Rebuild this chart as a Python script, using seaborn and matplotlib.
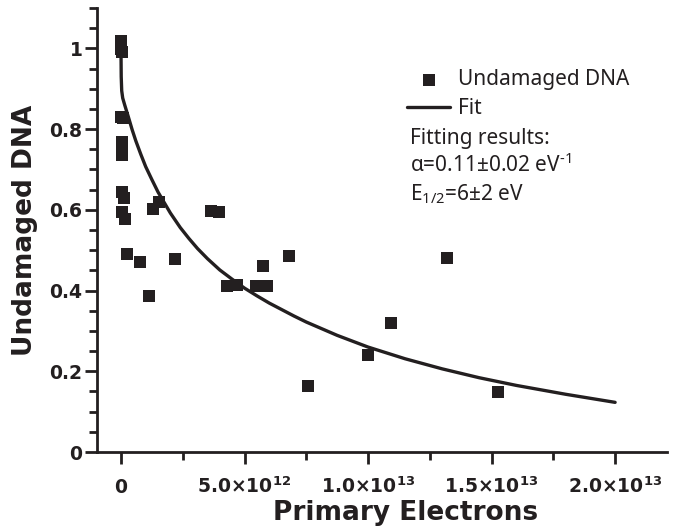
import numpy as np
import pandas as pd
import matplotlib
matplotlib.use("Agg")
import matplotlib.pyplot as plt
import seaborn as sns
from matplotlib.ticker import MultipleLocator, FuncFormatter
from matplotlib.lines import Line2D

# ---- data (x in units of 1e12 primary electrons) ----
data_x_e12 = [0.0, 0.02, 0.0, 0.03,
              0.0, 0.10,
              0.05, 0.05, 0.05,
              0.03, 0.12,
              0.03, 0.16,
              0.24, 0.77, 1.13,
              1.30, 1.52, 2.20,
              3.64, 3.95,
              4.29, 4.69, 5.47, 5.91,
              5.75, 6.82, 7.55, 9.98, 10.93, 13.18, 15.24]
data_y = [1.018, 1.008, 0.998, 0.991,
          0.830, 0.827,
          0.769, 0.752, 0.736,
          0.643, 0.630,
          0.595, 0.578,
          0.491, 0.471, 0.387,
          0.602, 0.620, 0.479,
          0.597, 0.594,
          0.411, 0.413, 0.412, 0.411,
          0.460, 0.485, 0.163, 0.241, 0.320, 0.481, 0.148]

# fit curve
fit_x_e12 = [0.0, 0.01, 0.03, 0.07, 0.15, 0.3, 0.45, 0.6, 0.8, 1.0, 1.25, 1.5,
             2.0, 2.4, 2.75, 3.1, 3.5, 4.0, 4.5, 5.0, 5.5, 6.0, 6.5, 7.0, 7.5,
             8.75, 10.0, 11.5, 13.0, 14.5, 16.0, 18.0, 20.0]
fit_y = [1.0, 0.93, 0.895, 0.877, 0.860, 0.830, 0.799, 0.771, 0.738, 0.707,
         0.675, 0.644, 0.592, 0.556, 0.529, 0.504, 0.479, 0.451, 0.428, 0.406,
         0.387, 0.369, 0.353, 0.337, 0.322, 0.289, 0.260, 0.231, 0.206, 0.184,
         0.165, 0.143, 0.123]

series_labels = ["Undamaged DNA", "Fit"]
fit_text = ["Fitting results:", "α=0.11±0.02 eV$^{\\text{-1}}$", "E$_{1/2}$=6±2 eV"]
x_label = "Primary Electrons"
y_label = "Undamaged DNA"

df_data = pd.DataFrame({"x": np.array(data_x_e12) * 1e12, "y": data_y})
df_fit = pd.DataFrame({"x": np.array(fit_x_e12) * 1e12, "y": fit_y})

# ---- style ----
sns.set_theme(style="ticks")
plt.rcParams["font.family"] = ["DejaVu Sans"]
plt.rcParams["mathtext.fontset"] = "custom"
plt.rcParams["mathtext.rm"] = "Noto Sans"
plt.rcParams["mathtext.it"] = "Noto Sans:italic"
plt.rcParams["mathtext.bf"] = "DejaVu Sans:bold"

dark = "#231f20"
W, H = 685, 528
fig = plt.figure(figsize=(W / 100, H / 100), dpi=100)
ax_l, ax_r, ax_t, ax_b = 97, 667, 8, 452
ax = fig.add_axes([ax_l / W, 1 - ax_b / H, (ax_r - ax_l) / W, (ax_b - ax_t) / H])

sns.scatterplot(data=df_data, x="x", y="y", ax=ax, marker="s", s=78,
                color=dark, linewidth=0, label=series_labels[0], zorder=3)
sns.lineplot(data=df_fit, x="x", y="y", ax=ax, color=dark, linewidth=2.4,
             sort=False, estimator=None, label=series_labels[1], zorder=2)

ax.set_xlim(-0.97e12, 22.1e12)
ax.set_ylim(0, 1.1)

ax.xaxis.set_major_locator(MultipleLocator(5e12))
ax.xaxis.set_minor_locator(MultipleLocator(2.5e12))
ax.yaxis.set_major_locator(MultipleLocator(0.2))
ax.yaxis.set_minor_locator(MultipleLocator(0.05))


def xfmt(v, pos):
    if abs(v) < 1:
        return "0"
    e = int(np.floor(np.log10(abs(v))))
    m = v / 10 ** e
    return f"{m:.1f}×10$^{{\\mathbf{{{e}}}}}$"


ax.xaxis.set_major_formatter(FuncFormatter(xfmt))
ax.yaxis.set_major_formatter(FuncFormatter(lambda v, p: f"{v:g}"))

for s in ["top", "right"]:
    ax.spines[s].set_visible(False)
for s in ["left", "bottom"]:
    ax.spines[s].set_linewidth(2.0)
    ax.spines[s].set_color(dark)

ax.tick_params(axis="both", which="major", direction="out", length=8.5, width=2.0,
               color=dark, labelcolor=dark, labelsize=13.5)
ax.tick_params(axis="both", which="minor", direction="out", length=5.5, width=2.0,
               color=dark)
ax.tick_params(axis="y", which="major", pad=2)
ax.tick_params(axis="x", which="major", pad=21)
for lab in ax.get_xticklabels() + ax.get_yticklabels():
    lab.set_fontweight("bold")
for lab in ax.get_xticklabels():
    lab.set_va("baseline")

ax.set_xlabel(x_label, fontsize=19, fontweight="bold", color=dark)
ax.set_ylabel(y_label, fontsize=19, fontweight="bold", color=dark)
ax.xaxis.label.set_va("baseline")
ax.xaxis.set_label_coords((406 - ax_l) / (ax_r - ax_l), (ax_b - 520) / (ax_b - ax_t))
ax.yaxis.set_label_coords((38 - ax_l) / (ax_r - ax_l), 0.5)

# legend
h_sc = ax.collections[0]
h_ln = Line2D([], [], color=dark, linewidth=2.4)
leg = ax.legend([h_sc, h_ln], series_labels, loc="upper left",
                bbox_to_anchor=(407 / W, 1 - 69.5 / H), bbox_transform=fig.transFigure,
                frameon=False, borderpad=0, borderaxespad=0, handlelength=2.07,
                handletextpad=0.38, labelspacing=0.36, scatterpoints=1,
                prop={"family": "Noto Sans", "size": 15})
for t in leg.get_texts():
    t.set_color(dark)

baselines = [144, 171.7, 200.7]
for txt, b in zip(fit_text, baselines):
    fig.text(410 / W, 1 - b / H, txt, family="Noto Sans", fontsize=15,
             color=dark, va="baseline", ha="left")

fig.savefig("out.png", dpi=100)
